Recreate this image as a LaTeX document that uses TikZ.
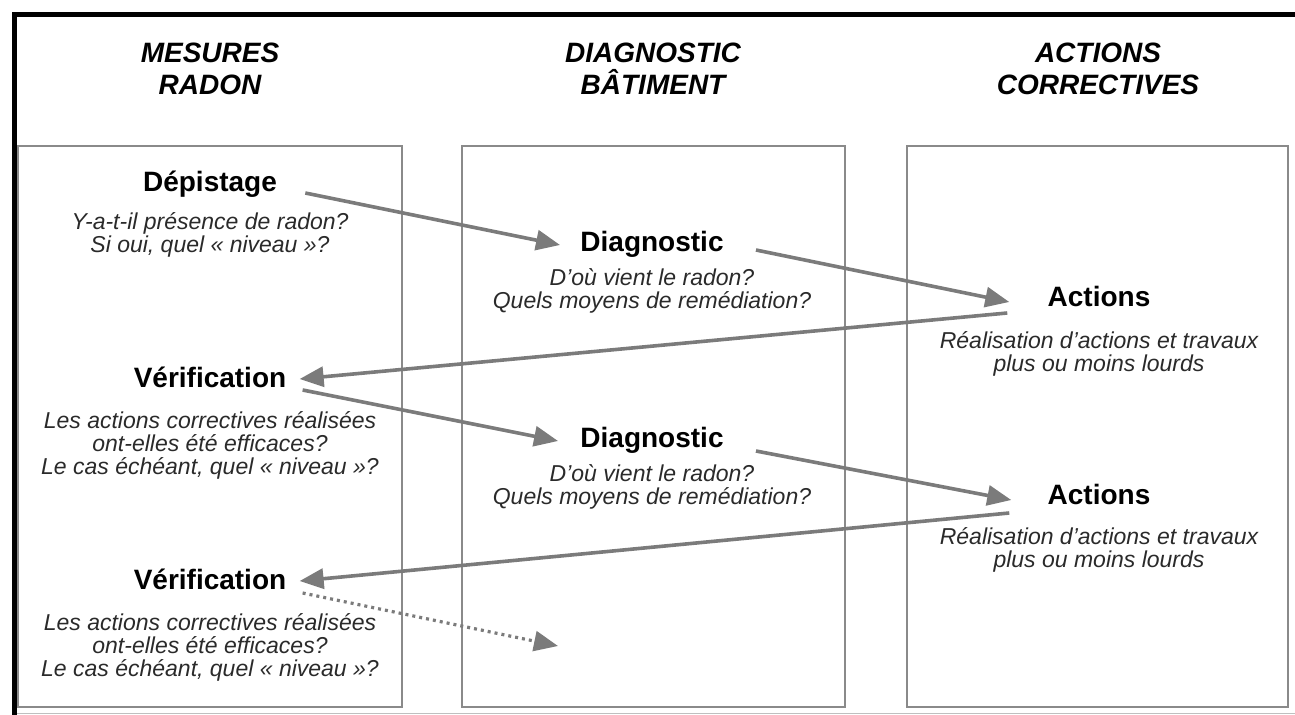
\documentclass[tikz,border=0pt]{standalone}
\usepackage{fontspec}
\setmainfont{Liberation Sans}
\usetikzlibrary{arrows.meta, positioning}
\definecolor{linegray}{HTML}{8A8A8A}
\definecolor{arrowgray}{HTML}{7B7B7B}
\definecolor{textgray}{HTML}{2A2A2A}

\begin{document}
\begin{tikzpicture}[
            x = 0.5pt,
            y = -0.5pt,
            on grid,
            colbox/.style = {draw = linegray, line width = 1pt},
            coltitle/.style = {align = center, font = \fontsize{14}{16}\selectfont\bfseries\itshape},
            stage/.style = {inner sep = 0pt, text height = 1.5ex, text depth = .25ex,
                            font = \fontsize{14}{16}\selectfont\bfseries},
            question/.style = {inner sep = 0pt, align = center, text = textgray,
                               font = \fontsize{11.5}{11.5}\selectfont\itshape},
            arr/.style = {-{Triangle[length = 12pt, width = 10pt]}, draw = arrowgray, line width = 1.8pt},
            dotarr/.style = {arr, line width = 1.6pt, dash pattern = on 1.5pt off 2pt}
        ]
        \useasboundingbox (0,0) rectangle (1295,715);

        % frame and columns
        \draw[line width = 2.8pt] (14.5,715) -- (14.5,14.5) -- (1295,14.5);
        \draw[black!25, line width = 0.6pt] (17,713.5) -- (1295,713.5);
        \foreach \l/\r in {18/402, 462/845, 907/1288}
            \draw[colbox] (\l,146) rectangle (\r,707);

        \node[coltitle] (mesures) at (210,69) {MESURES\\RADON};
        \node[coltitle] (batiment) at (653,69) {DIAGNOSTIC\\BÂTIMENT};
        \node[coltitle] (correctives) at (1098,69) {ACTIONS\\CORRECTIVES};

        % steps
        \node[stage] (dep) at (210,185) {Dépistage};
        \node[question, below = 25pt of dep] (depq) {Y-a-t-il présence de radon?\\Si oui, quel « niveau »?};

        \node[stage] (diag1) at (652,245) {Diagnostic};
        \node[question, below = 23pt of diag1] (diag1q) {D'où vient le radon?\\Quels moyens de remédiation?};

        \node[stage] (act1) at (1099,300) {Actions};
        \node[question, below = 27pt of act1] (act1q) {Réalisation d'actions et travaux\\plus ou moins lourds};

        \node[stage] (ver1) at (210,381) {Vérification};
        \node[question, below = 32pt of ver1] (ver1q) {Les actions correctives réalisées\\ont-elles été efficaces?\\Le cas échéant, quel « niveau »?};

        \node[stage] (diag2) at (652,441) {Diagnostic};
        \node[question, below = 23pt of diag2] (diag2q) {D'où vient le radon?\\Quels moyens de remédiation?};

        \node[stage] (act2) at (1099,498) {Actions};
        \node[question, below = 26pt of act2] (act2q) {Réalisation d'actions et travaux\\plus ou moins lourds};

        \node[stage] (ver2) at (210,583) {Vérification};
        \node[question, below = 32pt of ver2] (ver2q) {Les actions correctives réalisées\\ont-elles été efficaces?\\Le cas échéant, quel « niveau »?};

        \coordinate (next) at (558,646);

        % arrows
        \draw[arr] ([xshift = 14pt, yshift = -4pt]dep.east) -- ([xshift = -10pt]diag1.west);
        \draw[arr] ([xshift = 16pt, yshift = -2.5pt]diag1.east) -- ([xshift = -19pt, yshift = -1pt]act1.west);
        \draw[arr] ([xshift = -20pt, yshift = -6.5pt]act1.west) -- ([xshift = 6.5pt, yshift = 1pt]ver1.east);
        \draw[arr] ([xshift = 8pt, yshift = -4.5pt]ver1.east) -- ([xshift = -11pt]diag2.west);
        \draw[arr] ([xshift = 16pt, yshift = -5pt]diag2.east) -- ([xshift = -18pt, yshift = -1pt]act2.west);
        \draw[arr] ([xshift = -19pt, yshift = -7.5pt]act2.west) -- ([xshift = 6.5pt, yshift = 1pt]ver2.east);
        \draw[dotarr] ([xshift = 8pt, yshift = -5pt]ver2.east) -- (next);
\end{tikzpicture}
\end{document}
